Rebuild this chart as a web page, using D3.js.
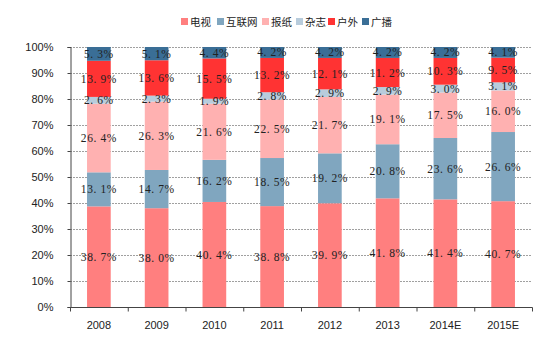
<!DOCTYPE html>
<html><head><meta charset="utf-8">
<script src="https://cdn.jsdelivr.net/npm/d3@7"></script>
<style>body{margin:0;background:#fff;}svg{display:block;}</style>
</head><body>
<svg id="chart" width="551" height="344"></svg>
<script>
const categories = ["2008","2009","2010","2011","2012","2013","2014E","2015E"];
const seriesNames = ["电视","互联网","报纸","杂志","户外","广播"];
const tv       = [38.7, 38.0, 40.4, 38.8, 39.9, 41.8, 41.4, 40.7];
const internet = [13.1, 14.7, 16.2, 18.5, 19.2, 20.8, 23.6, 26.6];
const paper    = [26.4, 26.3, 21.6, 22.5, 21.7, 19.1, 17.5, 16.0];
const magazine = [2.6, 2.3, 1.9, 2.8, 2.9, 2.9, 3.0, 3.1];
const outdoor  = [13.9, 13.6, 15.5, 13.2, 12.1, 11.2, 10.3, 9.5];
const radio    = [5.3, 5.1, 4.4, 4.2, 4.2, 4.2, 4.2, 4.1];
const yTicks = [0,10,20,30,40,50,60,70,80,90,100];
const colors = ["#FF7F7F","#80A6BF","#FFB1B1","#B8CCDC","#FF3333","#3A6E96"];

const seriesValues = [tv, internet, paper, magazine, outdoor, radio];
const rows = categories.map((c,i)=>{
  const r = {cat:c};
  seriesNames.forEach((s,j)=>{ r[s] = seriesValues[j][i]; });
  return r;
});
const stacked = d3.stack().keys(seriesNames)(rows);

const svg = d3.select("#chart");
const m = {left:70, right:19, top:47, bottom:37};
const W = 551, H = 344;
const x = d3.scaleBand().domain(categories).range([m.left, W-m.right]).paddingInner(0.59).paddingOuter(0.295);
const y = d3.scaleLinear().domain([0,100]).range([H-m.bottom, m.top]);

// gridlines
svg.append("g").selectAll("line").data(yTicks.filter(t=>t>0)).join("line")
  .attr("x1", m.left).attr("x2", W-m.right)
  .attr("y1", d=>y(d)+0.5).attr("y2", d=>y(d)+0.5)
  .attr("stroke","#a0a0a0").attr("stroke-width",1).attr("stroke-dasharray","2,1");

// bars
const g = svg.append("g");
stacked.forEach((layer, j)=>{
  g.append("g").selectAll("rect").data(layer).join("rect")
    .attr("x", d=>x(d.data.cat))
    .attr("width", x.bandwidth())
    .attr("y", d=>y(d[1]))
    .attr("height", d=>y(d[0])-y(d[1]))
    .attr("fill", colors[j]);
});
// labels
stacked.forEach((layer, j)=>{
  g.append("g").selectAll("text").data(layer).join("text")
    .attr("x", d=>x(d.data.cat)+x.bandwidth()/2)
    .attr("y", d=>y((d[0]+d[1])/2))
    .attr("dy","0.35em")
    .attr("text-anchor","middle")
    .attr("font-family","'Liberation Serif','DejaVu Serif',serif")
    .attr("font-size","11.5px")
    .attr("letter-spacing","0.6px")
    .attr("fill","#222")
    .text(d=>(d[1]-d[0]).toFixed(1).replace(".", ". ")+"%");
});

// y axis
const yAxis = d3.axisLeft(y).tickValues(yTicks).tickFormat(d=>d+"%").tickSize(3).tickPadding(14);
const ya = svg.append("g").attr("transform",`translate(${m.left+0.5},0)`).call(yAxis);
ya.select(".domain").attr("stroke","#444");
ya.selectAll(".tick line").attr("stroke","#444");
ya.selectAll("text").attr("font-family","Arial,'Liberation Sans',sans-serif").attr("font-size","11px").attr("fill","#222");

// x axis
const xa = svg.append("g").attr("transform",`translate(0,${H-m.bottom+0.5})`);
xa.append("line").attr("x1",m.left).attr("x2",W-m.right+0.5).attr("stroke","#444");
const step = x.step();
const boundaries = d3.range(categories.length+1).map(i=>m.left + i*(W-m.left-m.right)/categories.length);
xa.selectAll("line.t").data(boundaries).join("line").attr("class","t")
  .attr("x1",d=>d+0.5).attr("x2",d=>d+0.5).attr("y1",0).attr("y2",4).attr("stroke","#444");
xa.selectAll("text").data(categories).join("text")
  .attr("x", d=>x(d)+x.bandwidth()/2).attr("y", 21)
  .attr("text-anchor","middle")
  .attr("font-family","Arial,'Liberation Sans',sans-serif").attr("font-size","11px").attr("fill","#222")
  .text(d=>d);

// legend
const legendX = [181, 217, 262, 296, 328, 362];
const lg = svg.append("g");
seriesNames.forEach((s,j)=>{
  lg.append("rect").attr("x",legendX[j]).attr("y",18).attr("width",7).attr("height",7).attr("fill",colors[j]);
  lg.append("text").attr("x",legendX[j]+9).attr("y",22).attr("dy","0.35em")
    .attr("font-family","'Noto Sans CJK SC',sans-serif").attr("font-size","10.5px").attr("fill","#222")
    .text(s);
});
</script>
</body></html>
